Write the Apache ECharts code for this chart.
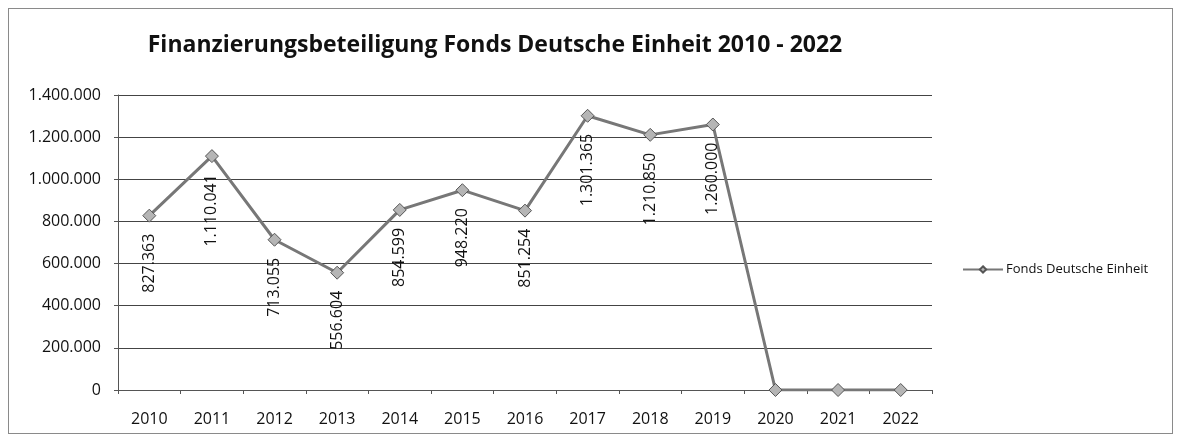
<!DOCTYPE html>
<html>
<head>
<meta charset="utf-8">
<script src="https://cdn.jsdelivr.net/npm/echarts@6/dist/echarts.min.js"></script>
<style>
  html, body { margin: 0; padding: 0; background: #fff; }
  #frame {
    position: absolute; left: 8px; top: 8px; width: 1165px; height: 426px;
    border: 1px solid #8a8a8a; box-sizing: border-box;
  }
  #chart { width: 1179px; height: 436px; position: absolute; left: 0; top: 0; }
</style>
</head>
<body>
<div id="frame"></div>
<div id="chart"></div>
<script>
  const years = ['2010', '2011', '2012', '2013', '2014', '2015', '2016',
                 '2017', '2018', '2019', '2020', '2021', '2022'];
  const fondsValues = [827363, 1110041, 713055, 556604, 854599, 948220, 851254,
                       1301365, 1210850, 1260000, 0, 0, 0];
  const seriesName = 'Fonds Deutsche Einheit';
  const titleText = 'Finanzierungsbeteiligung Fonds Deutsche Einheit 2010 - 2022';

  // Tausenderpunkt wie im Original
  function fmt(v) {
    return String(Math.round(v)).replace(/\B(?=(\d{3})+(?!\d))/g, '.');
  }

  const chart = echarts.init(document.getElementById('chart'));
  chart.setOption({
    animation: false,
    title: {
      text: titleText,
      left: 490,
      textAlign: 'center',
      top: 29,
      textStyle: {
        fontFamily: 'Open Sans',
        fontWeight: 'bold',
        fontSize: 23,
        color: '#111'
      }
    },
    legend: {
      left: 957,
      top: 258,
      itemWidth: 40,
      itemHeight: 8,
      itemGap: 4,
      textStyle: { fontFamily: 'Open Sans', fontSize: 13, color: '#111', padding: [0, 0, 0, -2] },
      data: [seriesName]
    },
    grid: { left: 118, right: 247, top: 95, bottom: 46 },
    xAxis: {
      type: 'category',
      data: years,
      boundaryGap: true,
      axisLine: { lineStyle: { color: '#555', width: 1 } },
      axisTick: { show: true, length: 4, lineStyle: { color: '#555' } },
      axisLabel: {
        margin: 21,
        fontFamily: 'Open Sans',
        fontSize: 16,
        color: '#111'
      }
    },
    yAxis: {
      type: 'value',
      min: 0,
      max: 1400000,
      interval: 200000,
      axisLine: { show: true, lineStyle: { color: '#555', width: 1 } },
      axisTick: { show: true, length: 4, lineStyle: { color: '#555' } },
      splitLine: { lineStyle: { color: '#444', width: 1 } },
      axisLabel: {
        margin: 17,
        fontFamily: 'Open Sans',
        fontSize: 16,
        color: '#111',
        formatter: fmt
      }
    },
    series: [{
      name: seriesName,
      type: 'line',
      data: fondsValues,
      symbol: 'diamond',
      symbolSize: 13,
      lineStyle: { color: '#777', width: 3 },
      itemStyle: { color: '#b5b5b5', borderColor: '#555', borderWidth: 1 },
      label: {
        show: true,
        position: 'bottom',
        distance: 11,
        rotate: 90,
        align: 'right',
        verticalAlign: 'middle',
        fontFamily: 'Open Sans',
        fontSize: 16,
        color: '#111',
        formatter: function (p) { return p.value ? fmt(p.value) : ''; }
      }
    }]
  });
</script>
</body>
</html>
